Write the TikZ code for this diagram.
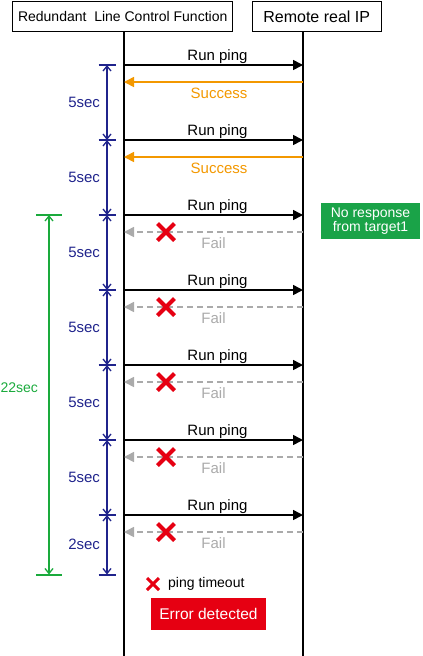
\documentclass[tikz,border=0pt]{standalone}
\usepackage{fontspec}
\setmainfont{Liberation Sans}
\usetikzlibrary{arrows.meta, shapes.misc, positioning}

\definecolor{pingorange}{RGB}{243,152,0}
\definecolor{failgray}{RGB}{170,170,170}
\definecolor{dimblue}{RGB}{32,36,140}
\definecolor{dimgreen}{RGB}{26,170,60}
\definecolor{boxgreen}{RGB}{26,163,72}
\definecolor{errred}{RGB}{230,0,18}
\newcommand{\pxfont}[1]{\fontsize{#1pt}{#1pt}\selectfont}

\begin{document}
\begin{tikzpicture}[x=1pt, y=-1pt,
    every node/.style={inner sep=0pt, font=\pxfont{15}},
    header/.style={draw, line width=1pt, minimum height=30pt},
    lifeline/.style={line width=2pt},
    ping/.style={line width=1.6pt, -{Triangle[length=10pt, width=10pt]}},
    success/.style={ping, pingorange},
    fail/.style={ping, failgray, dash pattern=on 6pt off 4pt},
    xmark/.style={cross out, draw=errred, line width=4pt, minimum size=13pt},
    dimline/.style={line width=2pt,
      {Straight Barb[length=5pt, width=8pt, line width=1.3pt]}-{Straight Barb[length=5pt, width=8pt, line width=1.3pt]}},
    tick/.style={line width=2pt}]
  \useasboundingbox (0,0) rectangle (423,656);

  % Headers
  \node[header, minimum width=220pt, font=\pxfont{14}] (rlcf) at (122.7,16.7) {Redundant\ \ Line Control Function};
  \node[header, minimum width=129pt, font=\pxfont{16}] (rip) at (316.7,16.7) {Remote real IP};

  % Lifelines
  \coordinate (ltop) at (124,31.7);
  \coordinate (lbot) at (124,656);
  \coordinate (rtop) at (303,31.7);
  \coordinate (rbot) at (303,656);
  \draw[lifeline] (ltop) -- (lbot);
  \draw[lifeline] (rtop) -- (rbot);

  % Pings
  \foreach \i in {0,...,6} {
    \pgfmathsetmacro{\y}{65+75*\i}
    \coordinate (a\i) at (124,\y);
    \coordinate (b\i) at (303,\y);
    \coordinate (c\i) at (303,\y+17);
    \coordinate (d\i) at (124,\y+17);
    \coordinate (t\i) at (107,\y);
    \draw[ping] (a\i) -- (b\i) node[midway, above=1pt, xshift=4pt] {Run ping};
  }

  % Replies
  \foreach \i in {0,1}
    \draw[success] (c\i) -- (d\i) node[midway, below=5pt, xshift=5.5pt] {Success};
  \foreach \i in {2,...,6} {
    \draw[fail] (c\i) -- (d\i) node[midway, below=5pt] {Fail};
    \node[xmark] (x\i) at ([xshift=42pt]d\i) {};
  }

  % 5sec intervals
  \coordinate (t7) at (107,574.5);
  \foreach \i in {0,...,7}
    \draw[tick, dimblue] ([xshift=-8.5pt]t\i) -- ([xshift=8.5pt]t\i);
  \foreach \i/\j in {0/1,1/2,2/3,3/4,4/5,5/6}
    \draw[dimline, dimblue] (t\i) -- (t\j) node[midway, left=6pt] {5sec};
  \draw[dimline, dimblue] (t6) -- (t7) node[midway, left=6pt] {2sec};

  % 22sec total
  \coordinate (g0) at (49,215);
  \coordinate (g1) at (49,574.5);
  \draw[tick, dimgreen] ([xshift=-13pt]g0) -- ([xshift=13pt]g0);
  \draw[tick, dimgreen] ([xshift=-13pt]g1) -- ([xshift=13pt]g1);
  \draw[dimline, dimgreen] (g0) -- (g1) node[midway, left=10pt, yshift=7pt, font=\pxfont{14}] {22sec};

  % Notes
  \node[fill=boxgreen, text=white, minimum width=99pt, minimum height=36pt,
        align=center, font=\pxfont{14}] (noresp) at (370.5,221) {No response\\from target1};
  \node[xmark, line width=3pt, minimum size=9pt] (xkey) at (153,584) {};
  \node[right=9pt of xkey, font=\pxfont{14}] (timeout) {ping timeout};
  \node[fill=errred, text=white, minimum width=115pt, minimum height=32pt,
        font=\pxfont{15.5}] (err) at (208.5,614) {Error detected};
\end{tikzpicture}
\end{document}
